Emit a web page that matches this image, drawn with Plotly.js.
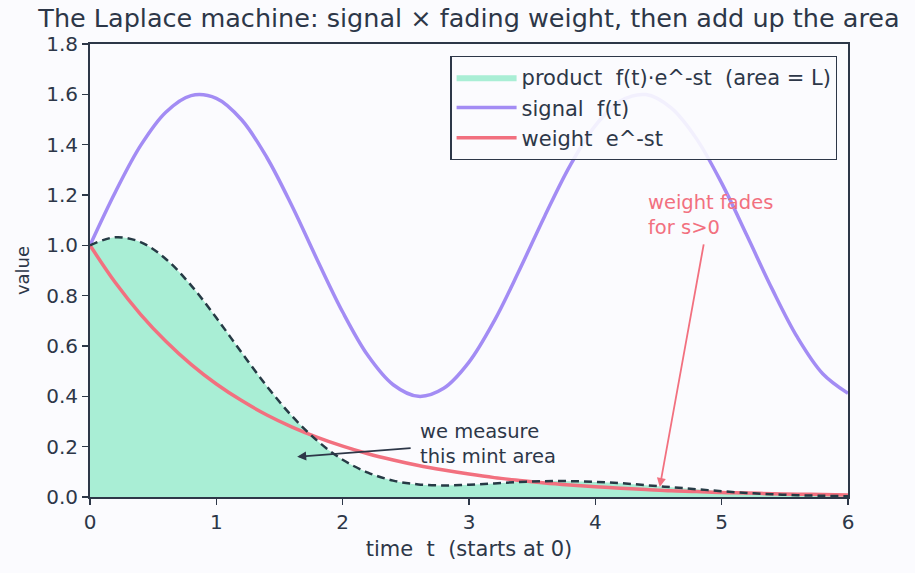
<!DOCTYPE html>
<html>
<head>
<meta charset="utf-8">
<script src="https://cdn.plot.ly/plotly-3.0.1.min.js"></script>
<style>
  html, body { margin: 0; padding: 0; background: #fbfbfe; }
  #chart { width: 915px; height: 573px; }
</style>
</head>
<body>
<div id="chart"></div>
<script>
// Sample times (every 0.2 from 0 to 6)
const times = [0.0, 0.2, 0.4, 0.6, 0.8, 1.0, 1.2, 1.4, 1.6, 1.8, 2.0, 2.2, 2.4, 2.6, 2.8, 3.0,
               3.2, 3.4, 3.6, 3.8, 4.0, 4.2, 4.4, 4.6, 4.8, 5.0, 5.2, 5.4, 5.6, 5.8, 6.0];

// signal f(t)
const signalValues = [1.000, 1.211, 1.396, 1.529, 1.595, 1.584, 1.499, 1.349, 1.155, 0.941, 0.735,
                      0.562, 0.446, 0.400, 0.432, 0.536, 0.700, 0.903, 1.117, 1.317, 1.476, 1.574,
                      1.599, 1.546, 1.424, 1.247, 1.039, 0.826, 0.634, 0.490, 0.412];

// weight e^-st
const weightValues = [1.000, 0.852, 0.726, 0.619, 0.527, 0.449, 0.383, 0.326, 0.278, 0.237, 0.202,
                      0.172, 0.147, 0.125, 0.107, 0.091, 0.077, 0.066, 0.056, 0.048, 0.041, 0.035,
                      0.030, 0.025, 0.022, 0.018, 0.016, 0.013, 0.011, 0.010, 0.008];

// product f(t)·e^-st
const productValues = [1.000, 1.032, 1.013, 0.946, 0.841, 0.712, 0.574, 0.440, 0.321, 0.223, 0.148,
                       0.097, 0.065, 0.050, 0.046, 0.049, 0.054, 0.060, 0.063, 0.063, 0.060, 0.055,
                       0.047, 0.039, 0.031, 0.023, 0.016, 0.011, 0.007, 0.005, 0.003];

const ink = '#2d3748';
const mint = '#a9eed5';
const violet = '#a38cf4';
const coral = '#f2707f';
const font = 'DejaVu Sans, sans-serif';

const traces = [
  {
    x: times, y: productValues, type: 'scatter', mode: 'lines',
    fill: 'tozeroy', fillcolor: mint,
    line: { width: 0, shape: 'spline', color: mint },
    name: 'product\u00a0 f(t)·e^-st\u00a0 (area = L)',
    legendgroup: 'a',
    hoverinfo: 'skip'
  },
  {
    x: times, y: signalValues, type: 'scatter', mode: 'lines',
    line: { color: violet, width: 3.5, shape: 'spline' },
    name: 'signal\u00a0 f(t)',
    legendgroup: 'b'
  },
  {
    x: times, y: weightValues, type: 'scatter', mode: 'lines',
    line: { color: coral, width: 3.5, shape: 'spline' },
    name: 'weight\u00a0 e^-st',
    legendgroup: 'c'
  },
  {
    x: times, y: productValues, type: 'scatter', mode: 'lines',
    line: { color: '#263a45', width: 2.5, dash: '8px,5px', shape: 'spline' },
    legendgroup: 'a',
    showlegend: false
  }
];

const layout = {
  width: 915, height: 573,
  paper_bgcolor: '#fbfbfe', plot_bgcolor: '#fbfbfe',
  font: { family: font, color: ink, size: 18 },
  margin: { l: 90, r: 67, t: 44, b: 76 },
  title: {
    text: 'The Laplace machine: signal × fading weight, then add up the area',
    font: { family: font, size: 25.5, color: ink },
    x: 0.5, xref: 'paper', y: 0.969, yref: 'container', yanchor: 'middle'
  },
  xaxis: {
    range: [0, 6], dtick: 1, tick0: 0,
    showgrid: false, zeroline: false,
    showline: true, linecolor: ink, linewidth: 2, mirror: true,
    ticks: 'outside', ticklen: 6, tickwidth: 1.5, tickcolor: ink,
    tickfont: { size: 20, family: font, color: ink },
    title: { text: 'time\u00a0 t\u00a0 (starts at 0)', font: { size: 21, family: font, color: ink }, standoff: 8 }
  },
  yaxis: {
    range: [0, 1.8], dtick: 0.2, tick0: 0, tickformat: '.1f',
    showgrid: false, zeroline: false,
    showline: true, linecolor: ink, linewidth: 2, mirror: true,
    ticks: 'outside', ticklen: 6, tickwidth: 1.5, tickcolor: ink,
    tickfont: { size: 20, family: font, color: ink },
    title: { text: 'value', font: { size: 18, family: font, color: ink }, standoff: 12 }
  },
  legend: {
    x: 0.986, y: 0.974, xanchor: 'right', yanchor: 'top',
    bgcolor: 'rgba(251,251,254,0.9)', bordercolor: ink, borderwidth: 1.2,
    font: { size: 21, family: font, color: ink },
    traceorder: 'grouped', tracegroupgap: 0, itemwidth: 60
  },
  showlegend: true,
  annotations: [
    {
      x: 1.64, y: 0.16, ax: 2.55, ay: 0.195, xref: 'x', yref: 'y', axref: 'x', ayref: 'y',
      text: '', showarrow: true, arrowhead: 2, arrowsize: 1, arrowwidth: 1.8, arrowcolor: ink
    },
    {
      x: 2.6, y: 0.21, xref: 'x', yref: 'y', xanchor: 'left', yanchor: 'middle', align: 'left',
      text: 'we measure<br>this mint area', showarrow: false,
      font: { size: 19.5, family: font, color: ink }
    },
    {
      x: 4.51, y: 0.04, ax: 4.86, ay: 1.01, xref: 'x', yref: 'y', axref: 'x', ayref: 'y',
      text: '', showarrow: true, arrowhead: 2, arrowsize: 1, arrowwidth: 1.8, arrowcolor: coral
    },
    {
      x: 4.4, y: 1.12, xref: 'x', yref: 'y', xanchor: 'left', yanchor: 'middle', align: 'left',
      text: 'weight fades<br>for s>0', showarrow: false,
      font: { size: 19.5, family: font, color: coral }
    }
  ]
};

Plotly.newPlot('chart', traces, layout, { displayModeBar: false, staticPlot: true });
</script>
</body>
</html>
